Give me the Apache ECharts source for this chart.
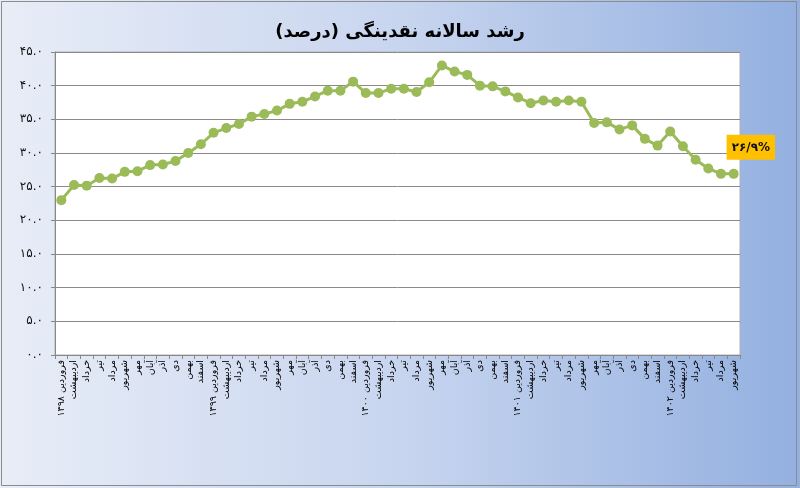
<!DOCTYPE html>
<html><head><meta charset="utf-8">
<script src="https://cdn.jsdelivr.net/npm/echarts@6/dist/echarts.min.js"></script>
<style>html,body{margin:0;padding:0;}#c{width:800px;height:488px;}</style>
</head><body><div id="c"></div>
<script>
var months = ['فروردین','اردیبهشت','خرداد','تیر','مرداد','شهریور','مهر','آبان','آذر','دی','بهمن','اسفند'];
var years = ['۱۳۹۸','۱۳۹۹','۱۴۰۰','۱۴۰۱','۱۴۰۲'];
var growth = [23.0,25.25,25.15,26.3,26.2,27.2,27.3,28.2,28.3,28.8,30.0,31.3,
  33.0,33.7,34.3,35.4,35.8,36.3,37.3,37.6,38.4,39.25,39.25,40.6,
  38.9,38.9,39.55,39.55,39.05,40.5,43.0,42.1,41.6,40.0,39.9,39.15,
  38.25,37.4,37.8,37.6,37.8,37.6,34.45,34.55,33.5,34.1,32.1,31.1,
  33.2,31.0,29.0,27.7,26.9,26.9];
var lastLabel = '۲۶/۹%';
var yTicks = [0,5,10,15,20,25,30,35,40,45];

var categories = [];
for (var i = 0; i < growth.length; i++) {
  var m = months[i % 12];
  if (i % 12 === 0) m = m + ' ' + years[Math.floor(i / 12)];
  categories.push(m);
}
function fa(s){ return String(s).replace(/[0-9]/g, function(d){ return '۰۱۲۳۴۵۶۷۸۹'[+d]; }); }

var data = growth.map(function(v, i){
  if (i === growth.length - 1) {
    return {value: v, label: {show: true, formatter: lastLabel, position: [-2, -34], align: 'left', verticalAlign: 'top',
      backgroundColor: '#ffc000', padding: [7, 5, 6, 5], color: '#111', fontWeight: 'bold', fontSize: 12, fontFamily: 'DejaVu Sans'}};
  }
  return v;
});

var chart = echarts.init(document.getElementById('c'), null, {renderer: 'canvas'});
chart.setOption({
  backgroundColor: {type: 'linear', x: 0, y: 0, x2: 1, y2: 0,
    colorStops: [{offset: 0, color: '#e8edf7'}, {offset: 0.5, color: '#c8d5ef'}, {offset: 1, color: '#93b0e0'}]},
  animation: false,
  graphic: [{type: 'rect', shape: {x: 1.5, y: 1.5, width: 795, height: 484}, style: {fill: 'none', stroke: '#8c8c8c', lineWidth: 1}, silent: true}],
  title: {text: 'رشد سالانه نقدینگی (درصد)', left: 'center', top: 18,
    textStyle: {fontFamily: 'DejaVu Sans', fontWeight: 'bold', fontSize: 18, color: '#000'}},
  grid: {left: 55, right: 60, top: 52, bottom: 133, show: true, backgroundColor: '#ffffff', borderColor: '#b0b0b0', borderWidth: 1},
  xAxis: {type: 'category', data: categories, boundaryGap: true,
    axisLine: {lineStyle: {color: '#888'}},
    axisTick: {show: true, alignWithLabel: false, interval: 0, length: 4, lineStyle: {color: '#888'}},
    axisLabel: {interval: 0, rotate: 90, fontSize: 9.5, color: '#000', fontFamily: 'DejaVu Sans', margin: 5}},
  yAxis: {type: 'value', min: 0, max: 45, interval: 5,
    axisLine: {show: true, lineStyle: {color: '#888'}},
    axisTick: {show: true, length: 4, lineStyle: {color: '#888'}},
    splitLine: {lineStyle: {color: '#8a8a8a', width: 1}},
    axisLabel: {fontSize: 12, color: '#111', fontFamily: 'DejaVu Sans', margin: 12,
      formatter: function(v){ return yTicks.indexOf(v) >= 0 ? fa(v.toFixed(1)) : ''; }}},
  series: [{type: 'line', data: data, symbol: 'circle', symbolSize: 10,
    lineStyle: {color: '#9bbb59', width: 3}, itemStyle: {color: '#9bbb59'}}]
});
</script></body></html>
